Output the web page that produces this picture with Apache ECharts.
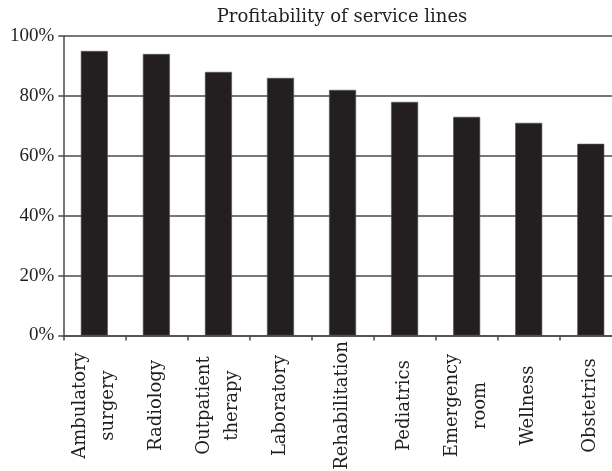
<!DOCTYPE html>
<html>
<head>
<meta charset="utf-8">
<script src="https://cdn.jsdelivr.net/npm/echarts@6/dist/echarts.min.js"></script>
<style>
html,body{margin:0;padding:0;background:#fff;}
#chart{width:612px;height:471px;}
</style>
</head>
<body>
<div id="chart"></div>
<script>
const titleText = 'Profitability of service lines';
const categories = ['Ambulatory\nsurgery', 'Radiology', 'Outpatient\ntherapy', 'Laboratory', 'Rehabilitation', 'Pediatrics', 'Emergency\nroom', 'Wellness', 'Obstetrics'];
const profitability = [95, 94, 88, 86, 82, 78, 73, 71, 64];
const yTicks = [0, 20, 40, 60, 80, 100];

const chart = echarts.init(document.getElementById('chart'), null, {renderer: 'canvas'});
chart.setOption({
  backgroundColor: '#ffffff',
  animation: false,
  title: {
    text: titleText,
    left: 337, top: 3, textAlign: 'center',
    textStyle: {fontFamily: 'DejaVu Serif', fontSize: 18, fontWeight: 'normal', color: '#231f20'}
  },
  grid: {left: 63.3, width: 558.5, top: 36, height: 299.5, outerBoundsMode: 'none'},
  xAxis: {
    type: 'category',
    data: categories,
    axisLine: {lineStyle: {color: '#4a4a4a', width: 1.5}},
    axisTick: {show: true, length: 5, lineStyle: {color: '#4a4a4a', width: 1.5}},
    axisLabel: {
      rotate: 90, margin: 70, align: 'center', verticalAlign: 'middle',
      interval: 0,
      fontFamily: 'DejaVu Serif', fontSize: 18, color: '#231f20', lineHeight: 28
    }
  },
  yAxis: {
    type: 'value', min: yTicks[0], max: yTicks[yTicks.length - 1], interval: 20,
    axisLine: {show: true, lineStyle: {color: '#4a4a4a', width: 1.5}},
    axisTick: {show: true, length: 5, lineStyle: {color: '#4a4a4a', width: 1.5}},
    splitLine: {show: true, lineStyle: {color: '#4a4a4a', width: 1.5}},
    axisLabel: {
      formatter: '{value}%', margin: 9,
      fontFamily: 'Liberation Serif', fontSize: 19, color: '#231f20'
    }
  },
  series: [{
    type: 'bar',
    data: profitability,
    barWidth: 27,
    itemStyle: {color: '#231f20', borderColor: '#555', borderWidth: 0.6}
  }]
});
</script>
</body>
</html>
